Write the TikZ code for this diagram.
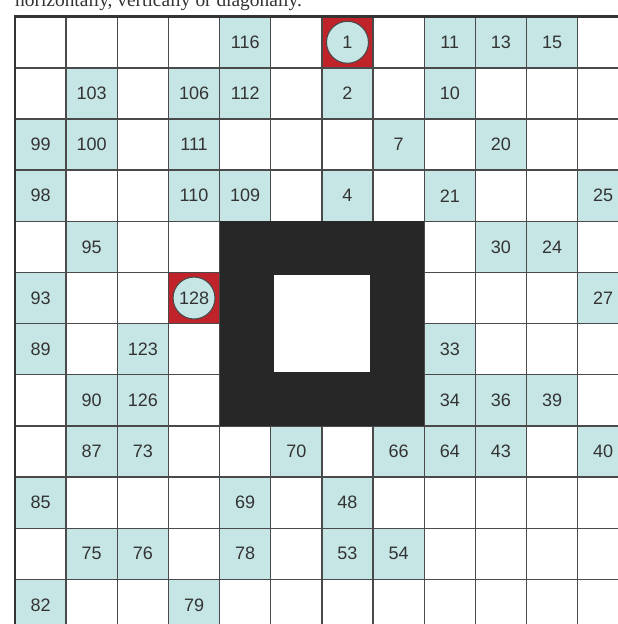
\documentclass[tikz,border=0pt]{standalone}
\usepackage{fontspec}
\setmainfont{Liberation Sans}
\newfontfamily\capfont{Liberation Serif}
\definecolor{cellteal}{HTML}{C6E6E5}
\definecolor{cellred}{HTML}{C0232A}
\definecolor{blockgray}{HTML}{272727}
\definecolor{linegray}{HTML}{4A4A4A}
\definecolor{textgray}{HTML}{333333}
\def\s{51.15}
\def\xo{15}
\def\yo{16.7}
\tikzset{
  numcell/.style={rectangle, fill=cellteal, minimum size=51.15pt, inner sep=0pt,
    font=\fontsize{18}{18}\selectfont, text=textgray},
  redcell/.style={rectangle, fill=cellred, minimum size=51.15pt, inner sep=0pt},
  ringcell/.style={circle, fill=cellteal, draw=linegray, line width=1.1pt, minimum size=42pt,
    inner sep=0pt, font=\fontsize{18}{18}\selectfont, text=textgray},
  gridline/.style={draw=linegray, line width=1.4pt},
  borderline/.style={draw=linegray!70!black, line width=2.6pt},
}
\newcommand\numcell[3]{\node[numcell] (n#3) at ({\xo+(#1-0.5)*\s},{\yo+(#2-0.5)*\s}) {#3};}
\newcommand\ringcell[3]{\node[redcell] (r#3) at ({\xo+(#1-0.5)*\s},{\yo+(#2-0.5)*\s}) {};}
\begin{document}
\begin{tikzpicture}[x=1pt,y=-1pt]
\useasboundingbox (0,0) rectangle (618,624);
\clip (0,0) rectangle (618,624);
\fill[white] (0,0) rectangle (618,624);
\node[anchor=base west, inner sep=0pt, font=\capfont\fontsize{19.4}{20}\selectfont, text=textgray] (caption) at (15,6.5) {horizontally, vertically or diagonally.};
% row 1
\numcell{5}{1}{116}
\numcell{9}{1}{11}
\numcell{10}{1}{13}
\numcell{11}{1}{15}
% row 2
\numcell{2}{2}{103}
\numcell{4}{2}{106}
\numcell{5}{2}{112}
\numcell{7}{2}{2}
\numcell{9}{2}{10}
% row 3
\numcell{1}{3}{99}
\numcell{2}{3}{100}
\numcell{4}{3}{111}
\numcell{8}{3}{7}
\numcell{10}{3}{20}
% row 4
\numcell{1}{4}{98}
\numcell{4}{4}{110}
\numcell{5}{4}{109}
\numcell{7}{4}{4}
\numcell{9}{4}{21}
\numcell{12}{4}{25}
% row 5
\numcell{2}{5}{95}
\numcell{10}{5}{30}
\numcell{11}{5}{24}
% row 6
\numcell{1}{6}{93}
\numcell{12}{6}{27}
% row 7
\numcell{1}{7}{89}
\numcell{3}{7}{123}
\numcell{9}{7}{33}
% row 8
\numcell{2}{8}{90}
\numcell{3}{8}{126}
\numcell{9}{8}{34}
\numcell{10}{8}{36}
\numcell{11}{8}{39}
% row 9
\numcell{2}{9}{87}
\numcell{3}{9}{73}
\numcell{6}{9}{70}
\numcell{8}{9}{66}
\numcell{9}{9}{64}
\numcell{10}{9}{43}
\numcell{12}{9}{40}
% row 10
\numcell{1}{10}{85}
\numcell{5}{10}{69}
\numcell{7}{10}{48}
% row 11
\numcell{2}{11}{75}
\numcell{3}{11}{76}
\numcell{5}{11}{78}
\numcell{7}{11}{53}
\numcell{8}{11}{54}
% row 12
\numcell{1}{12}{82}
\numcell{4}{12}{79}
% red cells
\ringcell{7}{1}{1}
\ringcell{4}{6}{128}
% grid
\foreach \i in {1,...,12} {
  \draw[gridline] ({\xo+\i*\s},\yo) -- ({\xo+\i*\s},630);
  \draw[gridline] (\xo,{\yo+\i*\s}) -- (630,{\yo+\i*\s});
}
\draw[borderline] (\xo,630) -- (\xo,\yo) -- (630,\yo);
% central block
\fill[blockgray] ({\xo+4*\s},{\yo+4*\s}) rectangle ({\xo+8*\s},{\yo+8*\s});
\fill[white] ({\xo+5*\s+3},{\yo+5*\s+3}) rectangle ({\xo+7*\s-3},{\yo+7*\s-3});
% circled numbers on the red cells
\node[ringcell] (n1) at (r1.center) {1};
\node[ringcell] (n128) at (r128.center) {128};
\end{tikzpicture}
\end{document}
